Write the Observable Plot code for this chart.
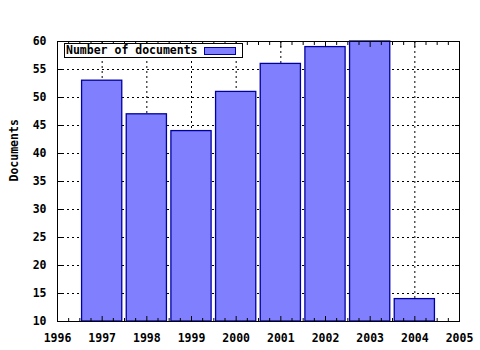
<!DOCTYPE html>
<html><head><meta charset="utf-8">
<script src="https://cdn.jsdelivr.net/npm/d3@7"></script>
<script src="https://cdn.jsdelivr.net/npm/@observablehq/plot@0.6"></script>
<style>
body{margin:0;background:#fff;}
#wrap{position:relative;width:480px;height:350px;}
#legend{position:absolute;left:64px;top:43px;width:177px;height:13px;border:1px solid #000;background:#fff;font:bold 11.5px "DejaVu Sans Mono",monospace;line-height:13px;}
#legend span.t{position:absolute;left:1px;top:0;}
#legend span.s{position:absolute;left:139px;top:3px;width:30px;height:6px;background:#8080ff;border:1px solid #0000a0;}
svg text{font-family:"DejaVu Sans Mono",monospace;font-weight:bold;}
</style></head>
<body><div id="wrap"></div>
<script>
const years = [1997, 1998, 1999, 2000, 2001, 2002, 2003, 2004];
const documents = [53, 47, 44, 51, 56, 59, 60, 14];
const xTicks = [1996, 1997, 1998, 1999, 2000, 2001, 2002, 2003, 2004, 2005];
const yTicks = [10, 15, 20, 25, 30, 35, 40, 45, 50, 55, 60];
const legendLabel = "Number of documents";
const yLabel = "Documents";

const data = years.map((y, i) => ({year: y, value: documents[i]}));
const minorX = d3.range(1996, 2005.001, 0.25).filter(v => !xTicks.includes(v));

const chart = Plot.plot({
  width: 480, height: 350,
  marginLeft: 57, marginRight: 21, marginTop: 41, marginBottom: 29,
  style: {fontSize: "11.5px", fontFamily: "DejaVu Sans Mono", fontWeight: "bold", color: "#000", background: "#fff"},
  x: {domain: [1996, 2005]},
  y: {domain: [10, 60]},
  marks: [
    Plot.gridX(xTicks, {stroke: "#000", strokeOpacity: 1, strokeDasharray: "2,3"}),
    Plot.gridY(yTicks, {stroke: "#000", strokeOpacity: 1, strokeDasharray: "2,3"}),
    Plot.rect(data, {x1: d => d.year - 0.45, x2: d => d.year + 0.45, y1: 10, y2: "value", fill: "#8080ff", stroke: "#0000a0", strokeWidth: 1.3}),
    Plot.axisX({ticks: xTicks, anchor: "bottom", tickSize: -5, tickPadding: 17, tickFormat: d => String(d), label: null}),
    Plot.axisX({ticks: xTicks, anchor: "top", tickSize: -5, tickFormat: () => "", label: null}),
    Plot.axisX({ticks: minorX, anchor: "bottom", tickSize: -3, tickFormat: () => "", label: null}),
    Plot.axisX({ticks: minorX, anchor: "top", tickSize: -3, tickFormat: () => "", label: null}),
    Plot.axisY({ticks: yTicks, anchor: "left", tickSize: -5, tickPadding: 16, tickFormat: d => String(d), label: null}),
    Plot.axisY({ticks: yTicks, anchor: "right", tickSize: -5, tickFormat: () => "", label: null}),
    Plot.text([yLabel], {frameAnchor: "left", text: d => d, rotate: -90, dx: -43, fontSize: 11.5, fill: "#000"}),
    Plot.frame({stroke: "#000", strokeWidth: 1})
  ]
});
const wrap = document.getElementById("wrap");
wrap.appendChild(chart);
const lg = document.createElement("div");
lg.id = "legend";
lg.innerHTML = '<span class="t"></span><span class="s"></span>';
lg.querySelector(".t").textContent = legendLabel;
wrap.appendChild(lg);
</script></body></html>
